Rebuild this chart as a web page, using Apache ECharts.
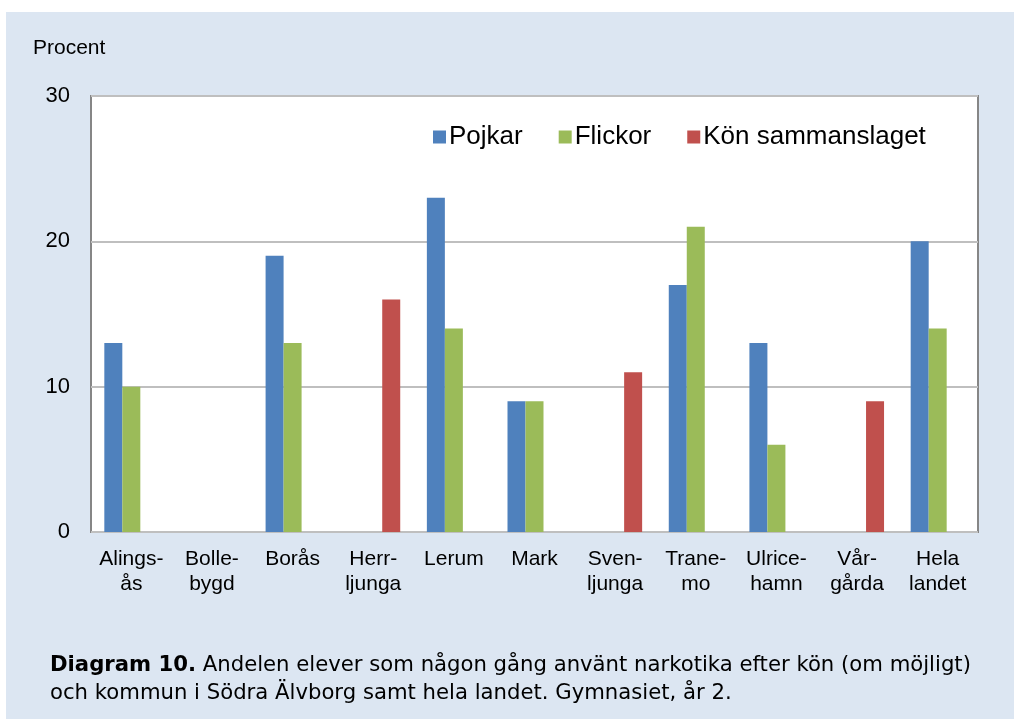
<!DOCTYPE html>
<html>
<head>
<meta charset="utf-8">
<script src="https://cdn.jsdelivr.net/npm/echarts@6/dist/echarts.min.js"></script>
<style>
html,body{margin:0;padding:0;background:#fff;}
#panel{position:absolute;left:6px;top:12px;width:1008px;height:707px;background:#dce6f2;}
#chart{position:absolute;left:0;top:0;width:1014px;height:719px;}
</style>
</head>
<body>
<div id="panel"></div>
<div id="chart"></div>
<script>
const categories = ["Alings-\nås","Bolle-\nbygd","Borås","Herr-\nljunga","Lerum","Mark","Sven-\nljunga","Trane-\nmo","Ulrice-\nhamn","Vår-\ngårda","Hela\nlandet"];
const pojkar  = [13, null, 19, null, 23, 9, null, 17, 13, null, 20];
const flickor = [10, null, 13, null, 14, 9, null, 21, 6, null, 14];
const konSammanslaget = [null, null, null, 16, null, null, 11, null, null, 9, null];
const seriesNames = ["Pojkar","Flickor","Kön sammanslaget"];
const yTicks = {min:0, max:30, interval:10};
const yAxisTitle = "Procent";
const captionBold = "Diagram 10.";
const captionLine1 = " Andelen elever som någon gång använt narkotika efter kön (om möjligt)";
const captionLine2 = "och kommun i Södra Älvborg samt hela landet. Gymnasiet, år 2.";

const chart = echarts.init(document.getElementById('chart'), null, {renderer:'canvas'});
const font = "Liberation Sans, Arial, sans-serif";
const capFont = "'DejaVu Sans', Verdana, sans-serif";
const colors = ['#4f81bd','#9bbb59','#c0504d'];
const mk = (name, data, i) => ({
  name, type:'bar', data, barWidth:18, barGap:'0%', barCategoryGap:'33%',
  itemStyle:{color:colors[i]}, emphasis:{disabled:true}
});
chart.setOption({
  backgroundColor:'transparent',
  animation:false,
  grid:{left:91, right:36, top:96, bottom:187, show:true, backgroundColor:'#fff', borderColor:'#868686', borderWidth:2},
  legend:{
    data:seriesNames, left:433, top:124, padding:0, itemWidth:13, itemHeight:13, itemGap:36,
    icon:'rect', textStyle:{fontFamily:font, fontSize:26, color:'#000', padding:[0,0,0,-2]}
  },
  xAxis:{
    type:'category', data:categories,
    axisLine:{show:false}, axisTick:{show:false},
    axisLabel:{fontFamily:font, fontSize:21, color:'#000', lineHeight:25, margin:15, interval:0}
  },
  yAxis:{
    type:'value', min:yTicks.min, max:yTicks.max, interval:yTicks.interval,
    axisLine:{show:false}, axisTick:{show:false},
    splitLine:{lineStyle:{color:'#bfbfbf', width:2}},
    axisLabel:{fontFamily:font, fontSize:22, color:'#000', margin:21}
  },
  series:[mk(seriesNames[0],pojkar,0), mk(seriesNames[1],flickor,1), mk(seriesNames[2],konSammanslaget,2)],
  graphic:[
    {type:'text', left:33, top:38, style:{fontFamily:font, fontSize:21, fill:'#000', text:yAxisTitle}},
    {type:'text', left:50, top:655, style:{
      rich:{b:{fontFamily:capFont, fontSize:21.2, fontWeight:'bold', fill:'#000'}, n:{fontFamily:capFont, fontSize:21.2, fill:'#000'}},
      text:'{b|'+captionBold+'}{n|'+captionLine1+'}'
    }},
    {type:'text', left:50, top:683, style:{fontFamily:capFont, fontSize:21.2, fill:'#000', text:captionLine2}}
  ]
});
</script>
</body>
</html>
